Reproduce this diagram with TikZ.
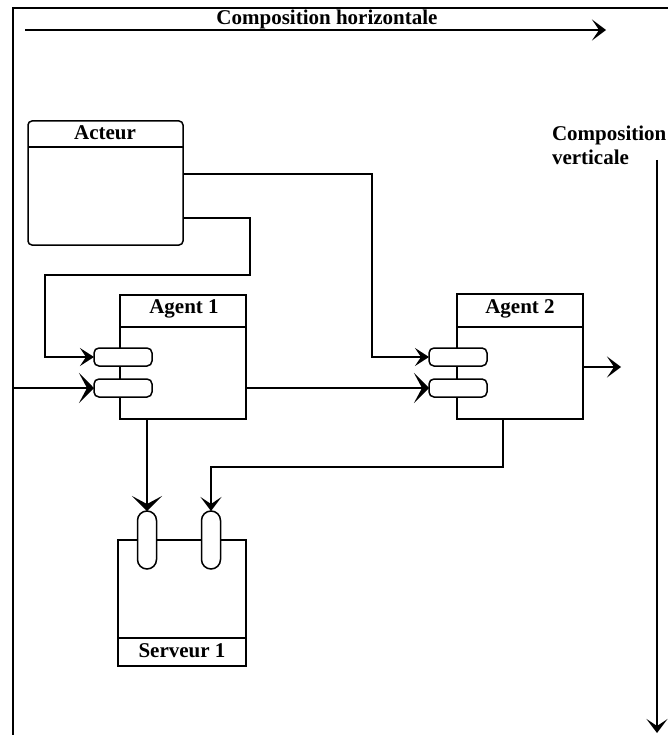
\documentclass[tikz,border=0pt]{standalone}
\usepackage{fontspec}
\setmainfont{Liberation Serif}
\usetikzlibrary{arrows.meta,calc}
\begin{document}
\begin{tikzpicture}[x=1pt,y=-1pt,
  line width=1.5pt,
  every node/.style={inner sep=0pt,outer sep=0pt},
  box/.style={draw,anchor=north west,fill=white},
  rbox/.style={draw,anchor=north west,fill=white,rounded corners=4pt},
  port/.style={draw,fill=white,rounded corners=5pt,minimum width=58pt,minimum height=18pt,anchor=west},
  vport/.style={draw,fill=white,rounded corners=9.5pt,minimum width=19pt,minimum height=58pt,anchor=north},
  lbl/.style={font=\fontsize{21}{24}\selectfont\bfseries},
  arrs/.style={-{Stealth[length=14pt,width=18pt,inset=6pt]}},
  arrl/.style={-{Stealth[length=15pt,width=30pt,inset=8pt]}},
  arrm/.style={-{Stealth[length=14pt,width=21pt,inset=7pt]}}
]
\useasboundingbox (0,0) rectangle (668,735);
\fill[white] (0,0) rectangle (668,735);
% frame
\draw (13,735) -- (13,8) -- (668,8);
% composition arrows
\coordinate (hs) at (25,30);
\coordinate (he) at (606,30);
\draw[arrm] (hs) -- (he);
\node[lbl] (ht) at (327,19.5) {Composition horizontale};
\coordinate (vs) at (657,160);
\coordinate (ve) at (657,733);
\draw[arrm] (vs) -- (ve);
\node[lbl,anchor=west,align=left] (vt) at (552,145) {Composition\\verticale};
% Acteur
\node[rbox,minimum width=155pt,minimum height=124pt] (act) at (28,121) {};
\draw (act.west |- 0,147) -- (act.east |- 0,147);
\node[lbl] (actt) at (105,133) {Acteur};
% Agent 1
\node[box,minimum width=126pt,minimum height=124pt] (a1) at (120,295) {};
\draw (a1.west |- 0,327) -- (a1.east |- 0,327);
\node[lbl] (a1t) at (184,309) {Agent 1};
\node[port] (p1a) at (94,357) {};
\node[port] (p1b) at (94,388) {};
% Agent 2
\node[box,minimum width=126pt,minimum height=125pt] (a2) at (457,294) {};
\draw (a2.west |- 0,327) -- (a2.east |- 0,327);
\node[lbl] (a2t) at (520,309) {Agent 2};
\node[port] (p2a) at (429,357) {};
\node[port] (p2b) at (429,388) {};
% Serveur 1
\node[box,minimum width=128pt,minimum height=126pt] (srv) at (118,540) {};
\draw (srv.west |- 0,638) -- (srv.east |- 0,638);
\node[lbl] (srvt) at (182,651) {Serveur 1};
\node[vport] (s1) at (147,511) {};
\node[vport] (s2) at (211,511) {};
% connectors
\draw[arrs] (act.east |- 0,174) -| (372,357) -- (p2a.west);
\draw[arrs] (act.east |- 0,218) -| (250,275) -| (45,357) -- (p1a.west);
\coordinate (in) at (13,388);
\draw[arrl] (in) -- (p1b.west);
\draw[arrl] (a1.east |- p2b.west) -- (p2b.west);
\coordinate (out) at (621,367);
\draw[arrm] (a2.east |- out) -- (out);
\draw[arrl] (s1.north |- a1.south) -- (s1.north);
\draw[arrm] ([xshift=-17pt]a2.south) -- ++(0,48) -| (s2.north);
\end{tikzpicture}
\end{document}
